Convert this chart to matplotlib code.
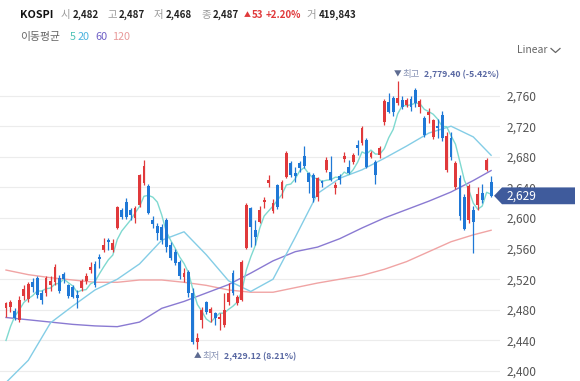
import numpy as np
import pandas as pd
import matplotlib
matplotlib.use("Agg")
import matplotlib.pyplot as plt
from matplotlib.patches import Polygon
from matplotlib.transforms import blended_transform_factory

plt.rcParams['font.family'] = ['Noto Sans CJK KR', 'DejaVu Sans']

# daily candles (open, high, low, close), oldest first
opens = [2482, 2484, 2478, 2467, 2498, 2494, 2516, 2522, 2502, 2502,
         2513, 2516, 2522, 2527, 2512, 2510, 2499, 2508, 2518, 2532,
         2540, 2549, 2558, 2571, 2558, 2587, 2610, 2621, 2610, 2600,
         2617, 2646, 2642, 2598, 2590, 2588, 2597, 2565, 2556, 2542,
         2523, 2529, 2502, 2438, 2467, 2490, 2476, 2476, 2468, 2460,
         2490, 2528, 2489, 2493, 2561, 2613, 2584, 2595, 2621, 2646,
         2609, 2643, 2637, 2654, 2672, 2659, 2672, 2681, 2659, 2656,
         2627, 2648, 2663, 2660, 2639, 2655, 2677, 2667, 2673, 2695,
         2698, 2702, 2680, 2673, 2682, 2726, 2752, 2757, 2750, 2754,
         2748, 2755, 2767, 2745, 2731, 2735, 2706, 2720, 2735, 2663,
         2705, 2641, 2652, 2628, 2597, 2610, 2617, 2633, 2663, 2647]
highs = [2490, 2493, 2482, 2498, 2512, 2516, 2522, 2524, 2506, 2524,
         2524, 2540, 2525, 2529, 2514, 2512, 2506, 2520, 2528, 2542,
         2544, 2553, 2574, 2574, 2572, 2616, 2613, 2626, 2613, 2616,
         2658, 2676, 2644, 2602, 2594, 2592, 2600, 2568, 2559, 2545,
         2535, 2532, 2508, 2450, 2484, 2492, 2484, 2477, 2476, 2502,
         2515, 2532, 2500, 2545, 2620, 2614, 2597, 2616, 2627, 2656,
         2625, 2645, 2650, 2687, 2674, 2667, 2674, 2694, 2660, 2659,
         2654, 2650, 2680, 2681, 2647, 2658, 2686, 2676, 2685, 2702,
         2720, 2704, 2687, 2676, 2694, 2756, 2763, 2759, 2779.40, 2760,
         2757, 2760, 2770, 2755, 2733, 2744, 2730, 2730, 2740, 2712,
         2712, 2674, 2656, 2632, 2645, 2616, 2640, 2645, 2678, 2655]
lows = [2471, 2477, 2467, 2464, 2493, 2490, 2503, 2495, 2488, 2498,
        2505, 2512, 2502, 2515, 2496, 2495, 2482, 2505, 2514, 2528,
        2510, 2535, 2555, 2558, 2555, 2585, 2599, 2599, 2597, 2593,
        2615, 2643, 2605, 2587, 2571, 2566, 2555, 2545, 2538, 2520,
        2516, 2497, 2436, 2429.12, 2456, 2474, 2464, 2460, 2454, 2457,
        2486, 2500, 2486, 2491, 2559, 2562, 2565, 2593, 2613, 2641,
        2606, 2612, 2626, 2652, 2654, 2647, 2660, 2666, 2633, 2621,
        2622, 2640, 2660, 2648, 2631, 2645, 2673, 2657, 2670, 2683,
        2696, 2666, 2678, 2644, 2678, 2722, 2737, 2733, 2748, 2742,
        2745, 2740, 2745, 2737, 2706, 2724, 2703, 2705, 2700, 2660,
        2676, 2638, 2598, 2584, 2593, 2554, 2610, 2620, 2662, 2627]
closes = [2489, 2490, 2469, 2493, 2507, 2514, 2510, 2499, 2493, 2522,
          2518, 2536, 2505, 2520, 2498, 2497, 2495, 2518, 2524, 2536,
          2512, 2546, 2565, 2568, 2567, 2614, 2601, 2601, 2604, 2613,
          2656, 2668, 2607, 2592, 2581, 2571, 2562, 2548, 2541, 2524,
          2528, 2502, 2438, 2443, 2480, 2477, 2481, 2469, 2471, 2480,
          2502, 2502, 2497, 2542, 2617, 2588, 2575, 2610, 2623, 2650,
          2620, 2614, 2647, 2685, 2656, 2655, 2665, 2668, 2647, 2626,
          2652, 2646, 2676, 2650, 2643, 2650, 2681, 2659, 2682, 2692,
          2718, 2667, 2685, 2656, 2692, 2753, 2739, 2739, 2757, 2745,
          2754, 2745, 2750, 2753, 2708, 2739, 2728, 2718, 2705, 2707,
          2680, 2672, 2602, 2586, 2642, 2595, 2632, 2623, 2676, 2629]

# moving averages every 5 sessions
ma_idx = [0, 5, 10, 15, 20, 25, 30, 35, 40, 45, 50, 55, 60, 65, 70, 75, 80,
          85, 90, 95, 100, 105, 109]
ma20 = [2385, 2414, 2463, 2485, 2506, 2520, 2540, 2571, 2582, 2552, 2518, 2504,
        2520, 2575, 2632, 2652, 2663, 2678, 2694, 2711, 2720, 2706, 2682]
ma60 = [2470, 2467, 2464, 2461, 2459, 2458, 2464, 2482, 2491, 2502, 2513, 2528,
        2544, 2556, 2562, 2573, 2587, 2600, 2611, 2622, 2634, 2649, 2662]
ma120 = [2532, 2526, 2522, 2519, 2516, 2516, 2519, 2519, 2516, 2512, 2506, 2503,
         2503, 2509, 2515, 2520, 2525, 2533, 2543, 2556, 2569, 2578, 2584]
ma5_head = [2440, 2458, 2472, 2480]  # first 4 days of the 5-day average

yticks = list(range(2400, 2761, 40))

RED = '#e0393b'
BLUE = '#1f78d6'
C5 = '#7fd9d0'
C20 = '#84cde6'
C60 = '#8a7ad2'
C120 = '#f0a4a4'

fig = plt.figure(figsize=(5.8, 3.81), dpi=100)
ax = fig.add_axes([0, 0, 500 / 580, 321 / 381])

n = len(closes)
x = np.arange(n)
o = np.array(opens, float)
c = np.array(closes, float)
h = np.array(highs, float)
l = np.array(lows, float)
up = c >= o
cols = np.where(up, RED, BLUE)

ax.vlines(x, l, h, colors=cols, lw=0.9, zorder=3)
body = np.maximum(np.abs(c - o), 1.5)
ax.bar(x, body, bottom=np.minimum(o, c), width=0.64, color=cols, zorder=3)

ma5 = pd.Series(closes).rolling(5).mean().to_numpy()
ma5[:4] = ma5_head
ax.plot(ma_idx, ma120, color=C120, lw=1.0, zorder=2)
ax.plot(ma_idx, ma60, color=C60, lw=1.0, zorder=2)
ax.plot(ma_idx, ma20, color=C20, lw=1.0, zorder=2)
ax.plot(x, ma5, color=C5, lw=1.0, zorder=2)

ax.set_xlim(-1.35, 111.0)
ax.set_ylim(2387, 2806.5)
ax.set_yticks(yticks)
ax.set_yticklabels([f'{v:,}' for v in yticks])
ax.yaxis.tick_right()
ax.tick_params(axis='y', length=0, pad=5, labelsize=8.6, labelcolor='#555555')
ax.set_xticks([])
ax.grid(axis='y', color='#ececec', lw=0.8)
ax.set_axisbelow(True)
for s in ax.spines.values():
    s.set_visible(False)

# highest / lowest markers
ih = int(np.argmax(h))
il = int(np.argmin(l))
ann = dict(textcoords='offset points', annotation_clip=False, va='center')
ax.annotate('▼', (ih, h[ih]), xytext=(0, 4.5), ha='center', fontsize=5.5,
            color='#5d6b91', **ann)
ax.annotate('최고', (ih, h[ih]), xytext=(3.2, 4.5), ha='left', fontsize=6.8,
            color='#8893b5', **ann)
ax.annotate('2,779.40 (-5.42%)', (ih, h[ih]), xytext=(19.0, 4.5), ha='left',
            fontsize=6.3, fontweight='bold', color='#5a69a3', **ann)
ax.annotate('▲', (il, l[il]), xytext=(0, -5.5), ha='center', fontsize=5.5,
            color='#5d6b91', **ann)
ax.annotate('최저', (il, l[il]), xytext=(4.0, -5.5), ha='left', fontsize=6.8,
            color='#8893b5', **ann)
ax.annotate('2,429.12 (8.21%)', (il, l[il]), xytext=(19.0, -5.5), ha='left',
            fontsize=6.3, fontweight='bold', color='#5a69a3', **ann)

# current price tag
tr = blended_transform_factory(fig.transFigure, ax.transData)
last = c[-1]
hh = 11
tag = Polygon([(494 / 580, last), (502 / 580, last + hh), (575 / 580, last + hh),
               (575 / 580, last - hh), (502 / 580, last - hh)],
              closed=True, transform=tr, facecolor='#3f5b9c', edgecolor='none',
              clip_on=False, zorder=10)
ax.add_patch(tag)
ax.text(507 / 580, last, f'{int(last):,}', transform=tr, color='white',
        fontsize=8.6, va='center', ha='left', zorder=11, clip_on=False)

# header
def ft(px, py, s, **kw):
    fig.text(px / 580, 1 - py / 381, s, va='center', ha='left', **kw)

ft(20, 15, 'KOSPI', fontsize=7.8, fontweight='bold', color='#111111')
head = [(61, '시', 73, '2,482'), (107, '고', 119, '2,487'),
        (154, '저', 166, '2,468'), (201, '종', 213, '2,487')]
for lx, lab, vx, val in head:
    ft(lx, 15, lab, fontsize=7.5, color='#9a9a9a')
    ft(vx, 15, val, fontsize=7, fontweight='bold', color='#222222')
ft(244, 15, '▲', fontsize=5, color=RED)
ft(252, 15, '53', fontsize=7, fontweight='bold', color=RED)
ft(266, 15, '+2.20%', fontsize=7, fontweight='bold', color=RED)
ft(306, 15, '거', fontsize=7.5, color='#9a9a9a')
ft(319, 15, '419,843', fontsize=7, fontweight='bold', color='#222222')

ft(20, 37, '이동평균', fontsize=7.8, color='#666666')
ft(70, 37, '5', fontsize=7.8, color='#4fc2b6')
ft(78, 37, '20', fontsize=7.8, color='#4cb3df')
ft(95, 37, '60', fontsize=7.8, color='#6e5fc6')
ft(112, 37, '120', fontsize=7.8, color='#e89a9a')

ft(517, 50, 'Linear', fontsize=7.5, color='#666666')
fig.add_artist(plt.Line2D([551 / 580, 555.5 / 580, 560 / 580],
                          [1 - 48.5 / 381, 1 - 52.5 / 381, 1 - 48.5 / 381],
                          color='#666666', lw=0.9))

fig.savefig('out.png', dpi=100)
